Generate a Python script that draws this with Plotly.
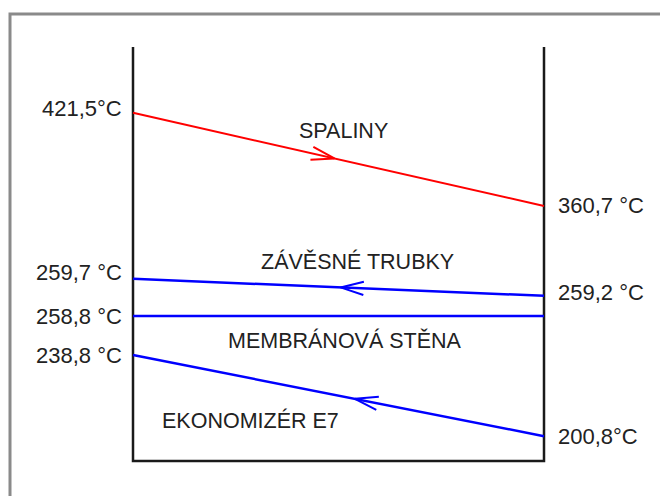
import math
import plotly.graph_objects as go

# ---------------- data ----------------
streams = ["SPALINY", "ZÁVĚSNÉ TRUBKY", "MEMBRÁNOVÁ STĚNA", "EKONOMIZÉR E7"]
# schematic level (0 = box bottom, 100 = box top) at the left and right wall
level_left = [84.1, 44.0, 35.0, 25.6]
level_right = [61.6, 39.9, 35.0, 6.0]
temp_left = ["421,5°C", "259,7 °C", "258,8 °C", "238,8 °C"]
temp_right = ["360,7 °C", "259,2 °C", "", "200,8°C"]
flow_dir = [1, -1, 0, -1]          # +1 left->right, -1 right->left, 0 none

# ---------------- styles / layout ----------------
colors = ["#ff0000", "#0000ff", "#0000ff", "#0000ff"]
widths = [2, 2.5, 2.5, 2.5]
arrow_t = [0.49, 0.505, None, 0.54]
name_x = [0.511, 0.545, 0.516, 0.285]
name_y = [79.7, 48.3, 29.0, 9.9]
left_yshift = [4, 6, 0, 0]
right_yshift = [0, 3, 0, 0]

OFF = 8  # page body margin
W, H = 668 - OFF, 496 - OFF
XR = [-(133 - OFF) / 411, 1 + (W - (544 - OFF)) / 411]
YR = [-(H - (461 - OFF)) / 4.14, (461 - OFF) / 4.14]
PX_X = W / (XR[1] - XR[0])
PX_Y = H / (YR[1] - YR[0])
FONT = "Liberation Sans, Arial, sans-serif"
TXT = "#222222"

fig = go.Figure()

# box (two walls + bottom)
fig.add_trace(go.Scatter(x=[0, 0, 1, 1], y=[100, 0, 0, 100], mode="lines",
                         line=dict(color="#1a1a1a", width=2.5),
                         hoverinfo="skip", showlegend=False))

annotations = []
for i, name in enumerate(streams):
    fig.add_trace(go.Scatter(x=[0, 1], y=[level_left[i], level_right[i]],
                             mode="lines", line=dict(color=colors[i], width=widths[i]),
                             hoverinfo="skip", showlegend=False))
    # chevron arrow on the line
    if flow_dir[i] != 0:
        t = arrow_t[i]
        tx = t
        ty = level_left[i] + (level_right[i] - level_left[i]) * t
        dx = 1.0 * PX_X * flow_dir[i]
        dy = (level_right[i] - level_left[i]) * PX_Y * flow_dir[i]
        ang = math.atan2(dy, dx)
        L, half = 24, math.radians(16)
        xs, ys = [], []
        for s in (1, None, -1):
            if s is None:
                xs.append(tx); ys.append(ty)
                continue
            a = ang + math.pi + s * half
            xs.append(tx + L * math.cos(a) / PX_X)
            ys.append(ty + L * math.sin(a) / PX_Y)
        fig.add_trace(go.Scatter(x=xs, y=ys, mode="lines",
                                 line=dict(color=colors[i], width=2),
                                 hoverinfo="skip", showlegend=False))
    annotations.append(dict(x=name_x[i], y=name_y[i], text=name, showarrow=False,
                            xanchor="center", yanchor="middle",
                            font=dict(size=21.5, color=TXT, family=FONT)))
    annotations.append(dict(x=0, y=level_left[i], text=temp_left[i], showarrow=False,
                            xanchor="right", yanchor="middle", xshift=-9,
                            yshift=left_yshift[i],
                            font=dict(size=22, color=TXT, family=FONT)))
    if temp_right[i]:
        annotations.append(dict(x=1, y=level_right[i], text=temp_right[i], showarrow=False,
                                xanchor="left", yanchor="middle", xshift=12,
                                yshift=right_yshift[i],
                                font=dict(size=22, color=TXT, family=FONT)))

fig.update_layout(
    width=W, height=H,
    margin=dict(l=0, r=0, t=0, b=0),
    paper_bgcolor="white", plot_bgcolor="white",
    xaxis=dict(range=XR, visible=False, fixedrange=True),
    yaxis=dict(range=YR, visible=False, fixedrange=True),
    annotations=annotations,
    shapes=[dict(type="rect", xref="paper", yref="paper",
                 x0=(10 - OFF) / W, x1=1.05, y0=-0.05, y1=1 - (14 - OFF) / H,
                 line=dict(color="#8a8a8a", width=3), layer="below")],
    showlegend=False,
)

fig.write_html("out.html")
